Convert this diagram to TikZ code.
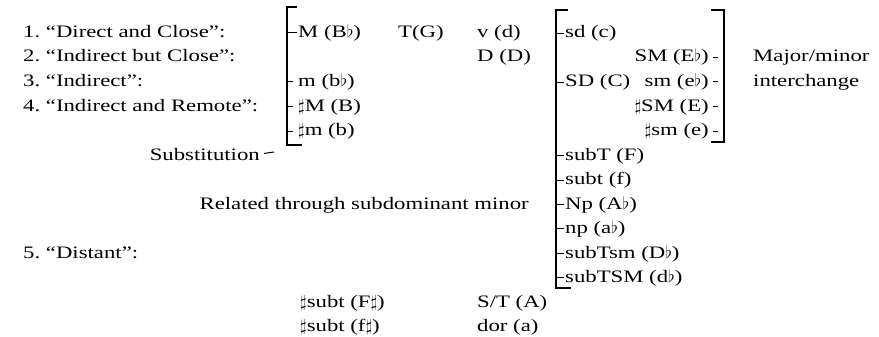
\documentclass[tikz,border=0pt]{standalone}
\usepackage{fontspec}
\setmainfont[FakeStretch=1.3]{Liberation Serif}
\newcommand{\flt}{$\flat$}
\newcommand{\shp}{$\sharp$}
\tikzset{
  lbl/.style={anchor=base west, inner sep=0pt},
  rlbl/.style={anchor=base east, inner sep=0pt},
  brk/.style={line width=1.4pt},
  tck/.style={line width=1pt}
}
\begin{document}
\begin{tikzpicture}[x=1pt,y=-1pt, font=\fontsize{17.5}{21}\selectfont]
    \useasboundingbox (0,0) rectangle (879,337);
    % left list
    \foreach \n/\y/\t in {one/37.5/{1.\ “Direct and Close”:},
            two/62/{2.\ “Indirect but Close”:},three/86.5/{3.\ “Indirect”:},
            four/111/{4.\ “Indirect and Remote”:},five/258/{5.\ “Distant”:}}
      \node[lbl] (\n) at (23,\y) {\t};
    % first bracket
    \coordinate (bra) at (287,0);
    \draw[brk] (297,7) -| (287,145) -- (302,145);
    \foreach \n/\y/\t in {Mj/37.5/{M (B\flt)},mn/86.5/{m (b\flt)},
            sMj/111/{\shp M (B)},smn/135.5/{\shp m (b)}}
      \node[lbl] (\n) at (298,\y) {\t};
    \draw[tck, shorten >=1pt] (bra |- Mj.west) -- (Mj.west);
    \foreach \n in {mn,sMj,smn}
      \draw[tck, shorten >=5pt] (bra |- \n.west) -- (\n.west);
    \node[rlbl] (subst) at (260,160) {Substitution};
    \coordinate (subend) at (274,152);
    \draw[tck, shorten <=4pt] (subst.east) -- (subend);
    % middle columns
    \node[lbl] (TG) at (398,37.5) {T(G)};
    \foreach \n/\y/\t in {vd/37.5/{v (d)},DD/62/{D (D)},
            ST/307/{S/T (A)},dor/331.5/{dor (a)}}
      \node[lbl] (\n) at (477,\y) {\t};
    \node[lbl] (sFs) at (300,307) {\shp subt (F\shp)};
    \node[lbl] (sfs) at (300,331.5) {\shp subt (f\shp)};
    \node[rlbl] (rel) at (529,209) {Related through subdominant minor};
    % second bracket
    \coordinate (brb) at (556,0);
    \draw[brk] (568,10) -| (556,288) -- (571,288);
    \foreach \n/\y/\t in {sdc/37.5/{sd (c)},SDC/86.5/{SD (C)},
            subTF/160/{subT (F)},subtf/184.5/{subt (f)},
            NpA/209/{Np (A\flt)},npa/233.5/{np (a\flt)},
            subTsm/258/{subTsm (D\flt)},subTSM/282.5/{subTSM (d\flt)}}
      \node[lbl] (\n) at (565,\y) {\t};
    \foreach \n in {sdc,SDC,subTF,subtf,NpA,npa,subTsm,subTSM}
      \draw[tck, shorten >=1pt] (brb |- \n.west) -- (\n.west);
    % third bracket
    \coordinate (brc) at (724,0);
    \draw[brk] (711,10) -| (724,142) -- (711,142);
    \foreach \n/\y/\t in {SMj/62/{SM (E\flt)},sm/86.5/{sm (e\flt)},
            sSM/111/{\shp SM (E)},ssm/135.5/{\shp sm (e)}}
      \node[rlbl] (\n) at (709,\y) {\t};
    \foreach \n in {SMj,sm,sSM,ssm}
      \draw[tck, shorten <=4pt, shorten >=6pt] (\n.east) -- (brc |- \n.east);
    \node[lbl] (maj) at (753,62) {Major/minor};
    \node[lbl] (inter) at (753,86.5) {interchange};
\end{tikzpicture}
\end{document}
